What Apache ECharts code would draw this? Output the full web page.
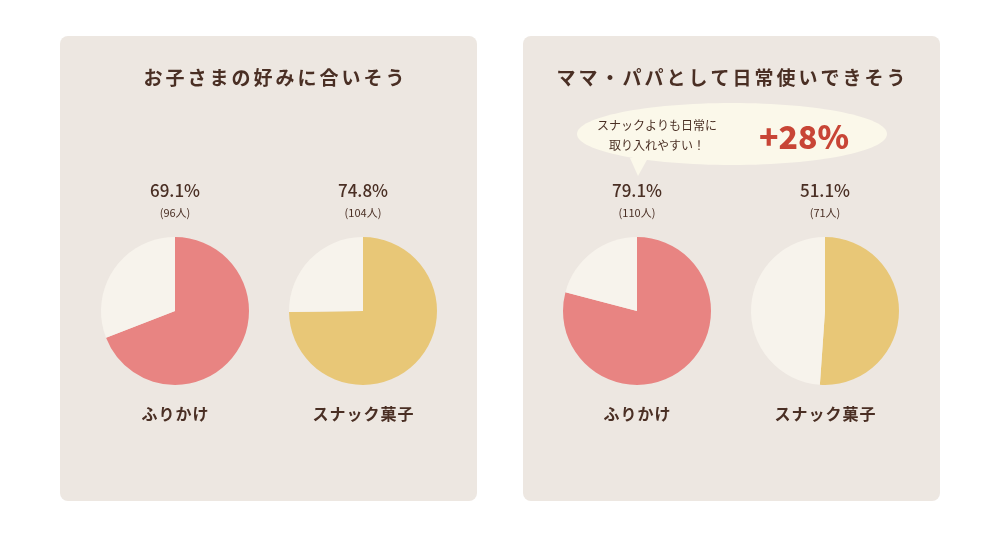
<!DOCTYPE html>
<html>
<head>
<meta charset="utf-8">
<script src="https://cdn.jsdelivr.net/npm/echarts@6/dist/echarts.min.js"></script>
<style>
  html, body { margin: 0; padding: 0; background: #fff; }
  #chart { width: 1000px; height: 537px; }
</style>
</head>
<body>
<div id="chart"></div>
<script>
// パネルの見出し
const panelTitles = ['お子さまの好みに合いそう', 'ママ・パパとして日常使いできそう']
// 項目名
const itemNames = ['ふりかけ', 'スナック菓子']
// 割合(%)  [パネル][項目]
const rates = [[69.1, 74.8], [79.1, 51.1]]
// 人数
const counts = [[96, 104], [110, 71]]
// 吹き出し
const calloutLines = ['スナックよりも日常に', '取り入れやすい！']
const calloutValue = '+28%'

const FONT = '"Noto Sans CJK JP", "Noto Sans", sans-serif'
const TEXT = '#4a2f24'
const itemColors = ['#e88482', '#e8c777']
const restColor = '#f7f3ec'

const panelX = [60, 523]
const titleX = [274, 731]
const pieX = [[175, 363], [637, 825]]
const pieY = 311

const chart = echarts.init(document.getElementById('chart'))

const series = []
const graphic = []

// 字間をあけた文字列（1文字ずつ置く）
const spacedText = (str, cx, y, step, font) => {
  const chars = Array.from(str)
  const x0 = cx - (chars.length - 1) * step / 2
  chars.forEach((ch, k) => {
    graphic.push({
      type: 'text', z: 5,
      style: {
        x: x0 + k * step, y: y, text: ch, align: 'center', verticalAlign: 'middle',
        font: font, fill: TEXT
      }
    })
  })
}

panelX.forEach((px, p) => {
  graphic.push({
    type: 'rect', z: 0,
    shape: { x: px, y: 36, width: 417, height: 465, r: 8 },
    style: { fill: '#ede7e1' }
  })
  spacedText(panelTitles[p], titleX[p], 78, 22, 'bold 19px ' + FONT)
  itemNames.forEach((name, i) => {
    const cx = pieX[p][i]
    series.push({
      type: 'pie',
      silent: true,
      radius: [0, 74],
      center: [cx, pieY],
      startAngle: 90,
      label: { show: false },
      labelLine: { show: false },
      emphasis: { disabled: true },
      animation: false,
      data: [
        { value: rates[p][i], itemStyle: { color: itemColors[i] } },
        { value: +(100 - rates[p][i]).toFixed(1), itemStyle: { color: restColor } }
      ]
    })
    graphic.push({
      type: 'text', z: 5,
      style: {
        x: cx, y: 191, text: rates[p][i].toFixed(1) + '%', align: 'center', verticalAlign: 'middle',
        font: '500 17px ' + FONT, fill: TEXT
      }
    })
    graphic.push({
      type: 'text', z: 5,
      style: {
        x: cx, y: 213, text: '(' + counts[p][i] + '人)', align: 'center', verticalAlign: 'middle',
        font: '11px ' + FONT, fill: TEXT
      }
    })
    spacedText(name, cx, 414, 17, 'bold 16px ' + FONT)
  })
})

// 吹き出し
graphic.push({
  type: 'ellipse', z: 3,
  shape: { cx: 732, cy: 134, rx: 155, ry: 31 },
  style: { fill: '#fbf8ea' }
})
graphic.push({
  type: 'polygon', z: 3,
  shape: { points: [[630, 158], [648, 158], [638, 176]] },
  style: { fill: '#fbf8ea' }
})
calloutLines.forEach((line, i) => {
  spacedText(line, 657, 125 + i * 20, 12, '12px ' + FONT)
})
graphic.push({
  type: 'text', z: 5,
  style: {
    x: 804, y: 137, text: calloutValue, align: 'center', verticalAlign: 'middle',
    font: '900 32px ' + FONT, fill: '#c84536'
  }
})

chart.setOption({
  backgroundColor: '#ffffff',
  animation: false,
  series: series,
  graphic: graphic
})
</script>
</body>
</html>
